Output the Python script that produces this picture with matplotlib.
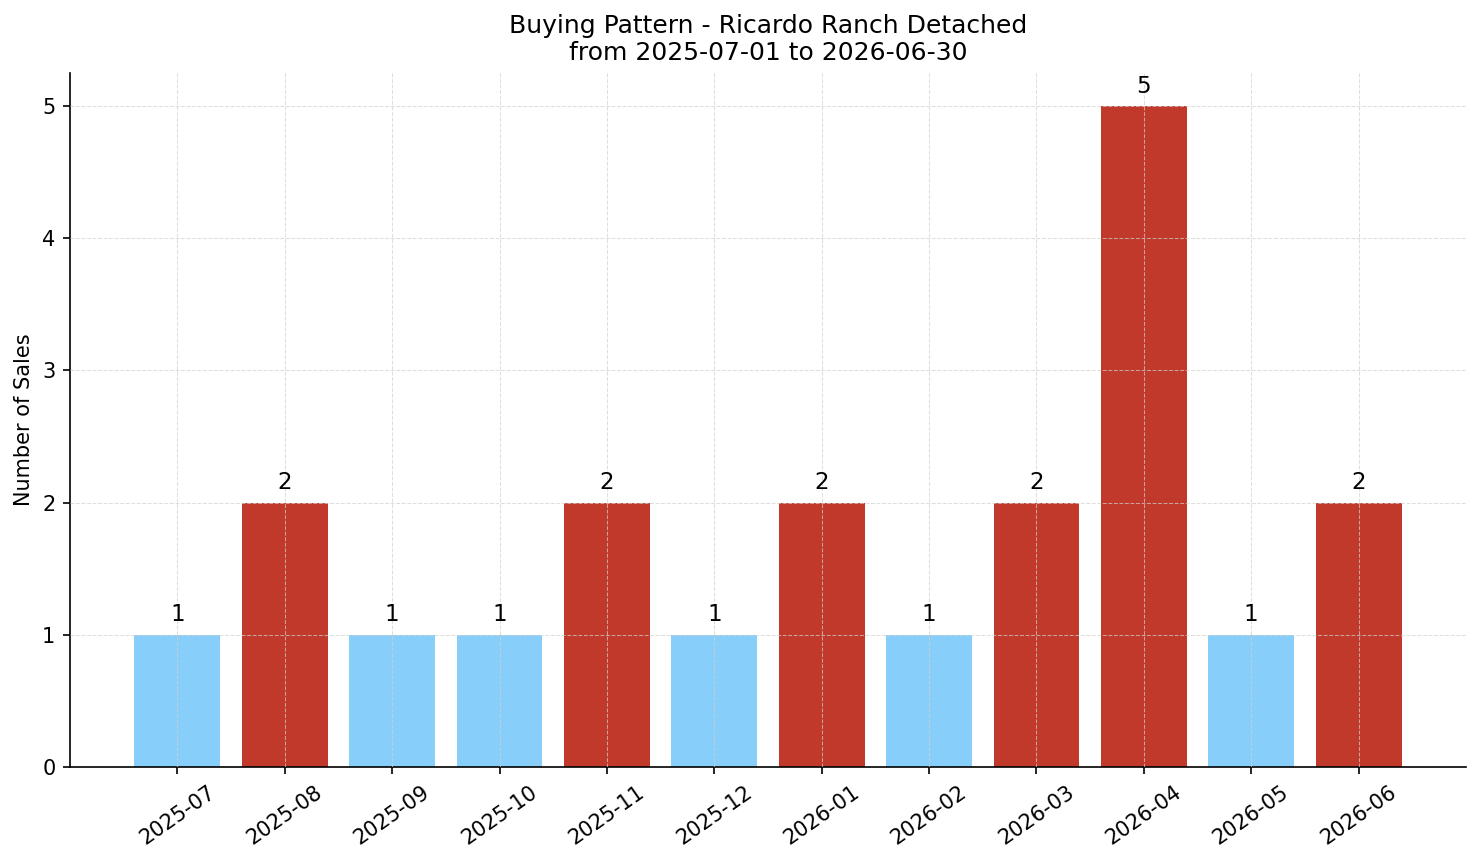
import numpy as np
import matplotlib
matplotlib.use("Agg")
import matplotlib.pyplot as plt

# data
months = ["2025-07", "2025-08", "2025-09", "2025-10", "2025-11", "2025-12",
          "2026-01", "2026-02", "2026-03", "2026-04", "2026-05", "2026-06"]
sales = [1, 2, 1, 1, 2, 1, 2, 1, 2, 5, 1, 2]

title = "Buying Pattern - Ricardo Ranch Detached\nfrom 2025-07-01 to 2026-06-30"

# bars above the monthly average in red, the rest light blue
avg = np.mean(sales)
colors = ["#c0392b" if v > avg else "#87cefa" for v in sales]

fig = plt.figure(figsize=(1481 / 150, 863 / 150), dpi=150)
ax = fig.add_axes([70 / 1481, 1 - 767 / 863, (1466 - 70) / 1481, (767 - 73) / 863])

x = np.arange(len(months))
bars = ax.bar(x, sales, width=0.8, color=colors, zorder=2)
for b, v in zip(bars, sales):
    ax.annotate(str(v), (b.get_x() + b.get_width() / 2, v), xytext=(0, 4),
                textcoords="offset points", ha="center", va="bottom", fontsize=11)

ax.set_xticks(x)
ax.set_xticklabels(months, rotation=35)
ax.set_xlim(-1, len(months))
ax.set_ylim(0, 5.25)
ax.set_yticks(range(0, 6))
ax.set_ylabel("Number of Sales")
ax.set_title(title, fontsize=12)

ax.grid(True, linestyle="--", linewidth=0.5, color="#d0d0d0", alpha=0.7, zorder=3)
ax.set_axisbelow(False)
ax.spines["top"].set_visible(False)
ax.spines["right"].set_visible(False)

fig.savefig("out.png", dpi=150)
